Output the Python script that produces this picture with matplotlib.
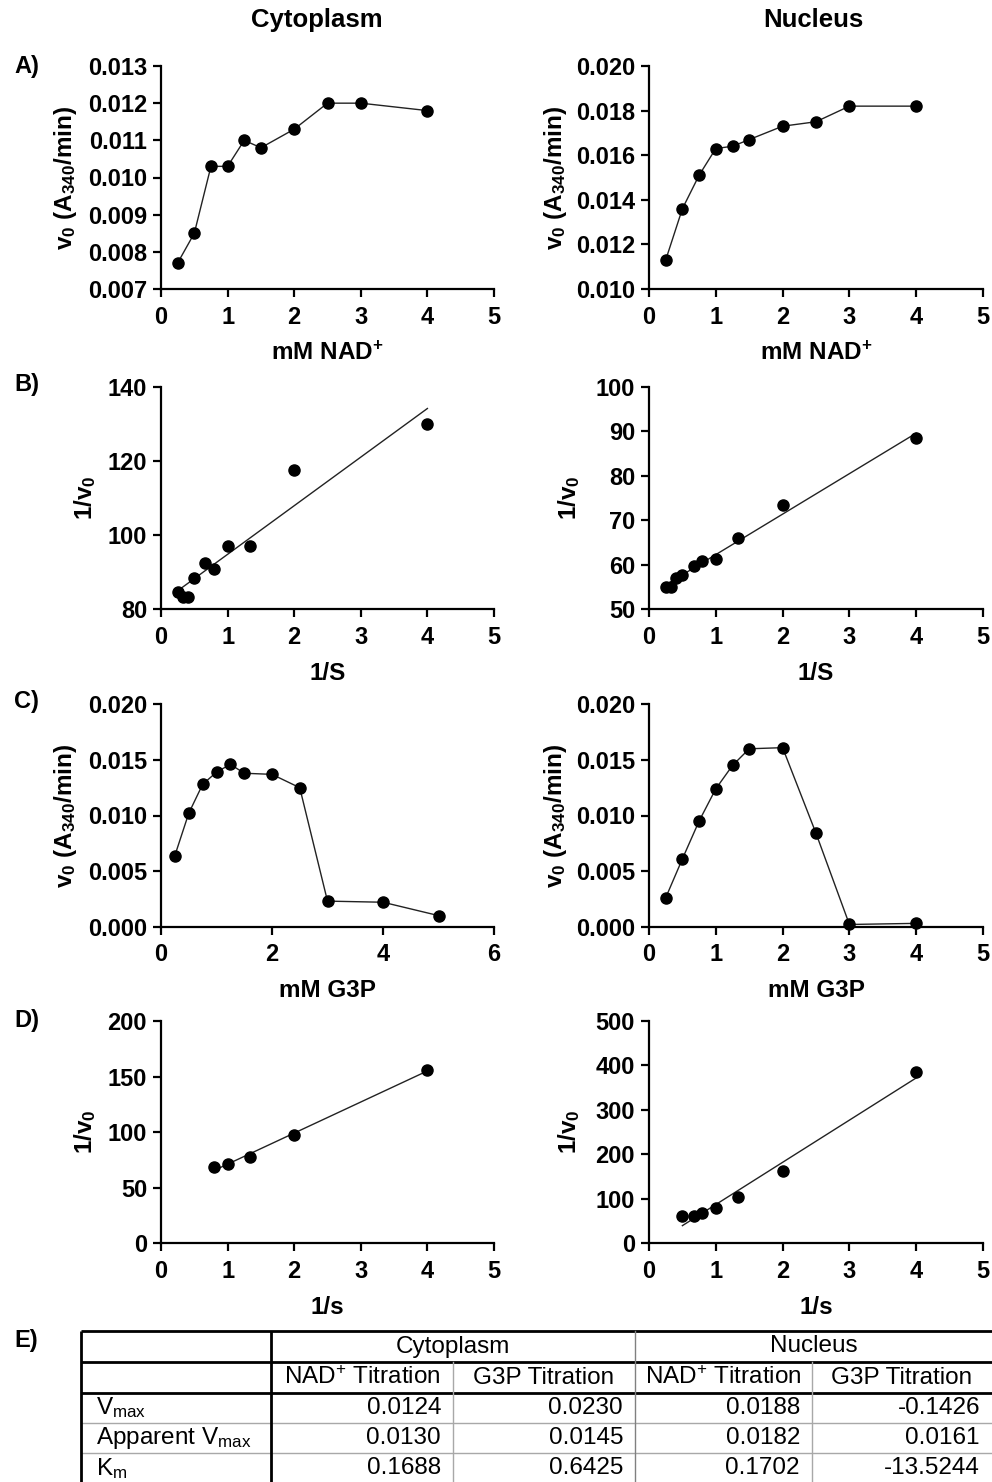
import numpy as np
import matplotlib
matplotlib.use("Agg")
import matplotlib.pyplot as plt
from matplotlib.ticker import MultipleLocator, FormatStrFormatter

plt.rcParams["font.family"] = ["Liberation Sans", "DejaVu Sans"]
plt.rcParams["mathtext.fontset"] = "custom"
plt.rcParams["mathtext.bf"] = "Liberation Sans:bold"
plt.rcParams["mathtext.rm"] = "Liberation Sans"
plt.rcParams["mathtext.it"] = "Liberation Sans:italic"

# ---- A) initial rate vs NAD+ ----
nad_conc = [0.25, 0.5, 0.75, 1.0, 1.25, 1.5, 2.0, 2.5, 3.0, 4.0]
v0_nad_cyto = [0.0077, 0.0085, 0.0103, 0.0103, 0.0110, 0.0108, 0.0113, 0.0120, 0.0120, 0.0118]
v0_nad_nuc = [0.0113, 0.0136, 0.0151, 0.0163, 0.0164, 0.0167, 0.0173, 0.0175, 0.0182, 0.0182]

# ---- B) double reciprocal, NAD+ ----
inv_s_nad = [4.0, 2.0, 1.333, 1.0, 0.8, 0.667, 0.5, 0.4, 0.333, 0.25]
inv_v_nad_cyto = [129.9, 117.6, 97.1, 97.1, 90.9, 92.6, 88.5, 83.3, 83.3, 84.7]
inv_v_nad_nuc = [88.5, 73.4, 66.1, 61.2, 60.9, 59.8, 57.8, 57.0, 54.9, 54.9]

# ---- C) initial rate vs G3P ----
g3p_conc_cyto = [0.25, 0.5, 0.75, 1.0, 1.25, 1.5, 2.0, 2.5, 3.0, 4.0, 5.0]
v0_g3p_cyto = [0.0064, 0.0102, 0.0128, 0.0139, 0.0146, 0.0138, 0.0137, 0.0125, 0.0023, 0.0022, 0.0010]
g3p_conc_nuc = [0.25, 0.5, 0.75, 1.0, 1.25, 1.5, 2.0, 2.5, 3.0, 4.0]
v0_g3p_nuc = [0.0026, 0.0061, 0.0095, 0.0124, 0.0145, 0.0160, 0.0161, 0.0084, 0.0002, 0.0003]

# ---- D) double reciprocal, G3P ----
inv_s_g3p_cyto = [4.0, 2.0, 1.333, 1.0, 0.8]
inv_v_g3p_cyto = [156.0, 97.8, 78.0, 71.4, 68.4]
inv_s_g3p_nuc = [4.0, 2.0, 1.333, 1.0, 0.8, 0.667, 0.5]
inv_v_g3p_nuc = [384.5, 162.6, 104.1, 80.1, 68.8, 62.1, 61.4]

# ---- E) kinetic parameters ----
table_groups = ["Cytoplasm", "Nucleus"]
table_columns = ["NAD$^{+}$ Titration", "G3P Titration", "NAD$^{+}$ Titration", "G3P Titration"]
table_rows = ["V$_{\\mathrm{max}}$", "Apparent V$_{\\mathrm{max}}$", "K$_{\\mathrm{m}}$"]
vmax_vals = ["0.0124", "0.0230", "0.0188", "-0.1426"]
app_vmax_vals = ["0.0130", "0.0145", "0.0182", "0.0161"]
km_vals = ["0.1688", "0.6425", "0.1702", "-13.5244"]

W, H = 992, 1482
fig = plt.figure(figsize=(W / 100, H / 100), dpi=100)

TICK_FS = 17
LABEL_FS = 17.5


def px_axes(x0, x1, ytop, ybot):
    return fig.add_axes([x0 / W, 1 - ybot / H, (x1 - x0) / W, (ybot - ytop) / H])


def style(ax, xlim, xstep, ylim, ystep, yfmt, xlabel, ylabel, ylab_x):
    ax.set_xlim(*xlim)
    ax.set_ylim(*ylim)
    ax.xaxis.set_major_locator(MultipleLocator(xstep))
    ax.yaxis.set_major_locator(MultipleLocator(ystep))
    ax.yaxis.set_major_formatter(FormatStrFormatter(yfmt))
    ax.xaxis.set_major_formatter(FormatStrFormatter("%d"))
    for s in ["top", "right"]:
        ax.spines[s].set_visible(False)
    for s in ["left", "bottom"]:
        ax.spines[s].set_linewidth(1.6)
    ax.tick_params(axis="both", which="major", length=6, width=1.6,
                   labelsize=TICK_FS, pad=4, direction="out")
    ax.tick_params(axis="x", pad=6)
    for lab in ax.get_xticklabels() + ax.get_yticklabels():
        lab.set_fontweight("bold")
    ax.set_xlabel(xlabel, fontsize=LABEL_FS, fontweight="bold")
    ax.xaxis.set_label_coords(0.5, -0.235)
    ax.set_ylabel(ylabel, fontsize=LABEL_FS, fontweight="bold")
    ax.yaxis.set_label_coords(ylab_x, 0.5)


def connected(ax, x, y):
    ax.plot(x, y, color="#222222", lw=1.0, marker="o", markersize=8,
            markerfacecolor="black", markeredgecolor="black", clip_on=False, zorder=3)


def fitted(ax, x, y):
    slope, icpt = np.polyfit(x, y, 1)
    xs = np.array([min(x), max(x)])
    ax.plot(xs, slope * xs + icpt, color="#222222", lw=1.0, zorder=2)
    ax.plot(x, y, "o", color="black", markersize=8, clip_on=False, zorder=3)


LX = (161, 494)
RX = (649, 983)
ROWS = [(66, 289), (386.7, 609.3), (704.3, 926.7), (1021, 1243.3)]

v0_label = r"$\mathbf{v_0\ (A_{340}/min)}$"
inv_label = r"$\mathbf{1/v_0}$"
nad_label = r"$\mathbf{mM\ NAD^{+}}$"

# Row A
ax = px_axes(*LX, *ROWS[0])
connected(ax, nad_conc, v0_nad_cyto)
style(ax, (0, 5), 1, (0.007, 0.013), 0.001, "%.3f", nad_label, v0_label, -0.245)
ax = px_axes(*RX, *ROWS[0])
connected(ax, nad_conc, v0_nad_nuc)
style(ax, (0, 5), 1, (0.010, 0.020), 0.002, "%.3f", nad_label, v0_label, -0.24)

# Row B
ax = px_axes(*LX, *ROWS[1])
fitted(ax, inv_s_nad, inv_v_nad_cyto)
style(ax, (0, 5), 1, (80, 140), 20, "%d", "1/S", inv_label, -0.19)
ax = px_axes(*RX, *ROWS[1])
fitted(ax, inv_s_nad, inv_v_nad_nuc)
style(ax, (0, 5), 1, (50, 100), 10, "%d", "1/S", inv_label, -0.2)

# Row C
ax = px_axes(*LX, *ROWS[2])
connected(ax, g3p_conc_cyto, v0_g3p_cyto)
style(ax, (0, 6), 2, (0, 0.020), 0.005, "%.3f", "mM G3P", v0_label, -0.245)
ax = px_axes(*RX, *ROWS[2])
connected(ax, g3p_conc_nuc, v0_g3p_nuc)
style(ax, (0, 5), 1, (0, 0.020), 0.005, "%.3f", "mM G3P", v0_label, -0.24)

# Row D
ax = px_axes(*LX, *ROWS[3])
fitted(ax, inv_s_g3p_cyto, inv_v_g3p_cyto)
style(ax, (0, 5), 1, (0, 200), 50, "%d", "1/s", inv_label, -0.19)
ax = px_axes(*RX, *ROWS[3])
fitted(ax, inv_s_g3p_nuc, inv_v_g3p_nuc)
style(ax, (0, 5), 1, (0, 500), 100, "%d", "1/s", inv_label, -0.2)

# Column titles and panel letters
fig.text(317 / W, 1 - 20 / H, "Cytoplasm", ha="center", va="center",
         fontsize=18.5, fontweight="bold")
fig.text(813 / W, 1 - 20 / H, "Nucleus", ha="center", va="center",
         fontsize=18.5, fontweight="bold")
for letter, yc in zip(["A)", "B)", "C)", "D)", "E)"], [66, 385, 702, 1020, 1340]):
    fig.text(14 / W, 1 - yc / H, letter, ha="left", va="center",
             fontsize=17, fontweight="bold")

# ---- Table (pixel coordinates) ----
tb = fig.add_axes([0, 0, 1, 1], zorder=-1)
tb.set_xlim(0, W)
tb.set_ylim(H, 0)
tb.axis("off")

row_y = [1331, 1362, 1393, 1423, 1453, 1484]
col_x = [81, 271, 453, 635, 812, 992]
thick = dict(color="black", lw=2.0, solid_capstyle="butt")
thin = dict(color="#a8a8a8", lw=1.0)

tb.plot([col_x[0], col_x[-1]], [row_y[0]] * 2, **thick)
tb.plot([col_x[0], col_x[-1]], [row_y[1]] * 2, **thick)
tb.plot([col_x[0], col_x[-1]], [row_y[2]] * 2, **thick)
for yy in row_y[3:5]:
    tb.plot([col_x[0], col_x[-1]], [yy] * 2, **thin)
tb.plot([col_x[0]] * 2, [row_y[0], row_y[-1]], **thick)
tb.plot([col_x[1]] * 2, [row_y[0], row_y[-1]], **thick)
tb.plot([col_x[3]] * 2, [row_y[0], row_y[-1]], color="#808080", lw=1.0)
for xx in (col_x[2], col_x[4]):
    tb.plot([xx] * 2, [row_y[1], row_y[-1]], **thin)

TFS = 17.5
for i, g in enumerate(table_groups):
    xc = (col_x[1 + 2 * i] + col_x[3 + 2 * i]) / 2
    tb.text(xc, (row_y[0] + row_y[1]) / 2, g, ha="center", va="center", fontsize=TFS)
for j, c in enumerate(table_columns):
    xc = (col_x[1 + j] + col_x[2 + j]) / 2
    tb.text(xc, (row_y[1] + row_y[2]) / 2, c, ha="center", va="center", fontsize=TFS)
for r, (lab, vals) in enumerate(zip(table_rows, [vmax_vals, app_vmax_vals, km_vals])):
    yc = (row_y[2 + r] + row_y[3 + r]) / 2
    tb.text(col_x[0] + 15, yc, lab, ha="left", va="center", fontsize=TFS)
    for j, v in enumerate(vals):
        tb.text(col_x[2 + j] - 12, yc, v, ha="right", va="center", fontsize=TFS)

fig.savefig("out.png", dpi=100)
